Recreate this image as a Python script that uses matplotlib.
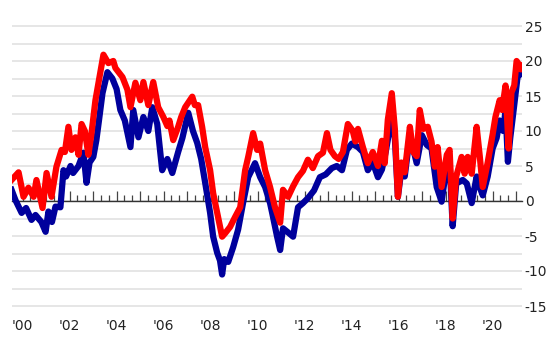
import matplotlib
matplotlib.use("Agg")
import matplotlib.pyplot as plt
from matplotlib.ticker import MultipleLocator

# values (decimal years)
red_t = [1999.53, 1999.83, 2000.04, 2000.25, 2000.47, 2000.59, 2000.85, 2001.02, 2001.23, 2001.44,
         2001.66, 2001.80, 2001.95, 2002.08, 2002.25, 2002.38, 2002.51, 2002.65, 2002.80, 2002.93,
         2003.10, 2003.23, 2003.44, 2003.65, 2003.86, 2003.95, 2004.25, 2004.46, 2004.59, 2004.80,
         2005.01, 2005.14, 2005.35, 2005.56, 2005.77, 2005.99, 2006.16, 2006.25, 2006.41, 2006.62,
         2006.75, 2006.92, 2007.22, 2007.33, 2007.47, 2007.64, 2007.77, 2007.98, 2008.11, 2008.28,
         2008.49, 2008.62, 2008.83, 2009.04, 2009.26, 2009.47, 2009.60, 2009.81, 2009.98, 2010.11,
         2010.32, 2010.53, 2010.74, 2010.96, 2011.08, 2011.30, 2011.51, 2011.72, 2011.93, 2012.14,
         2012.35, 2012.57, 2012.78, 2012.95, 2013.10, 2013.29, 2013.45, 2013.63, 2013.84, 2014.05,
         2014.16, 2014.27, 2014.48, 2014.69, 2014.90, 2015.12, 2015.29, 2015.41, 2015.54, 2015.71,
         2015.84, 2015.97, 2016.12, 2016.26, 2016.48, 2016.62, 2016.77, 2016.90, 2017.05, 2017.24,
         2017.40, 2017.54, 2017.66, 2017.83, 2018.05, 2018.17, 2018.30, 2018.45, 2018.68, 2018.81,
         2018.94, 2019.11, 2019.32, 2019.45, 2019.58, 2019.79, 2020.00, 2020.12, 2020.30, 2020.40,
         2020.55, 2020.68, 2020.80, 2020.92, 2021.02, 2021.12, 2021.20, 2021.25]
red_v = [3.0, 4.1, 0.6, 1.9, 0.6, 3.0, -1.0, 4.0, 0.6, 4.9,
         7.3, 7.0, 10.6, 7.3, 9.1, 6.6, 11.0, 10.0, 6.6, 9.6,
         14.4, 16.9, 20.9, 19.7, 20.0, 19.0, 17.7, 15.9, 13.4, 16.9,
         14.4, 17.0, 13.7, 17.0, 13.4, 12.0, 10.7, 11.5, 8.7, 10.6,
         12.0, 13.4, 14.9, 13.7, 13.7, 10.6, 7.7, 4.4, 1.1, -1.7,
         -5.1, -4.6, -3.7, -2.3, -0.9, 4.4, 6.3, 9.7, 7.3, 8.2,
         4.4, 2.0, -0.9, -3.1, 1.6, 0.6, 2.1, 3.4, 4.3, 5.9,
         4.7, 6.4, 6.9, 9.7, 7.3, 6.4, 6.0, 7.0, 11.0, 10.0,
         8.5, 10.3, 7.7, 5.4, 7.0, 5.0, 8.6, 5.4, 11.6, 15.4,
         10.3, 0.6, 5.5, 4.1, 10.6, 7.0, 6.4, 13.0, 10.3, 10.6,
         8.5, 4.9, 7.7, 2.0, 6.6, 7.3, -2.5, 3.5, 6.3, 3.9,
         6.3, 3.9, 10.6, 6.5, 2.0, 5.5, 9.5, 12.0, 14.4, 13.0,
         16.5, 7.5, 15.5, 16.5, 20.0, 19.5, 18.8, 19.3]

blue_t = [1999.53, 1999.70, 1999.96, 2000.15, 2000.38, 2000.55, 2000.80, 2000.98, 2001.10, 2001.25,
          2001.40, 2001.61, 2001.74, 2001.85, 2002.04, 2002.15, 2002.38, 2002.59, 2002.72, 2002.85,
          2003.01, 2003.14, 2003.25, 2003.40, 2003.61, 2003.82, 2004.00, 2004.16, 2004.35, 2004.59,
          2004.71, 2004.93, 2005.14, 2005.35, 2005.52, 2005.73, 2005.94, 2006.16, 2006.37, 2006.62,
          2006.80, 2007.05, 2007.25, 2007.43, 2007.60, 2007.77, 2007.98, 2008.11, 2008.28, 2008.40,
          2008.49, 2008.58, 2008.75, 2008.96, 2009.17, 2009.38, 2009.60, 2009.89, 2010.11, 2010.32,
          2010.53, 2010.62, 2010.83, 2010.96, 2011.08, 2011.30, 2011.51, 2011.72, 2011.93, 2012.14,
          2012.40, 2012.65, 2012.90, 2013.16, 2013.37, 2013.59, 2013.80, 2014.01, 2014.27, 2014.48,
          2014.69, 2014.90, 2015.12, 2015.29, 2015.45, 2015.71, 2015.84, 2015.97, 2016.12, 2016.26,
          2016.48, 2016.77, 2016.99, 2017.20, 2017.40, 2017.62, 2017.83, 2018.00, 2018.17, 2018.30,
          2018.45, 2018.73, 2018.90, 2019.11, 2019.32, 2019.45, 2019.58, 2019.79, 2020.00, 2020.17,
          2020.30, 2020.45, 2020.55, 2020.65, 2020.75, 2020.93, 2021.06, 2021.25]
blue_v = [1.6, 0.1, -1.7, -1.0, -2.7, -2.0, -3.0, -4.4, -1.5, -3.0,
          -0.8, -0.9, 4.4, 3.5, 5.0, 4.0, 5.0, 6.9, 2.6, 5.5,
          6.3, 8.7, 11.5, 15.4, 18.4, 17.5, 16.0, 13.0, 11.5, 7.7,
          13.0, 9.1, 12.0, 10.0, 13.4, 11.0, 4.4, 6.0, 4.0, 7.0,
          9.0, 12.6, 10.0, 8.3, 6.0, 2.6, -1.7, -5.1, -7.4, -8.5,
          -10.5, -8.3, -8.7, -6.6, -4.1, -0.3, 3.4, 5.4, 3.4, 2.0,
          -0.3, -1.7, -5.1, -7.0, -3.9, -4.5, -5.1, -0.9, -0.3, 0.4,
          1.5, 3.4, 3.8, 4.7, 5.0, 4.4, 7.3, 8.2, 7.7, 7.0,
          4.4, 5.5, 3.4, 4.5, 7.0, 12.0, 9.0, 0.6, 4.5, 3.5,
          9.4, 5.4, 9.4, 8.0, 7.5, 2.0, -0.1, 4.0, 5.5, -3.6,
          2.5, 3.0, 2.5, -0.3, 3.5, 2.0, 0.8, 3.5, 7.5, 9.0,
          11.5, 10.0, 13.0, 5.6, 9.0, 14.0, 17.7, 18.4]

label_years = list(range(2000, 2021, 2))
tick_labels = ["'%02d" % (y % 100) for y in label_years]
y_ticks = [-15, -10, -5, 0, 5, 10, 15, 20, 25]

plt.rcParams['axes.unicode_minus'] = False
plt.rcParams['font.family'] = 'DejaVu Sans'

fig = plt.figure(figsize=(5.55, 3.39), dpi=100)
ax = fig.add_axes([12 / 555, 26 / 339, 510 / 555, 294 / 339])

ax.plot(blue_t, blue_v, color='#00009c', lw=4.5, solid_joinstyle='round', zorder=3)
ax.plot(red_t, red_v, color='#ff0000', lw=4.5, solid_joinstyle='round', zorder=4)

ax.set_xlim(1999.55, 2021.25)
ax.set_ylim(-16, 26)

ax.set_yticks(y_ticks)
ax.yaxis.set_minor_locator(MultipleLocator(2.5))
ax.yaxis.tick_right()
ax.grid(axis='y', which='both', color='#e4e4e4', lw=1.3, zorder=0)
ax.tick_params(axis='y', which='both', length=0, pad=2, labelsize=10, labelcolor='#222222')

ax.set_xticks(label_years)
ax.set_xticklabels(tick_labels)
ax.tick_params(axis='x', length=0, pad=4, labelsize=10, labelcolor='#222222')

for s in ax.spines.values():
    s.set_visible(False)

# zero line with small year ticks
zx = ax.secondary_xaxis(0, transform=ax.transData)
zx.spines['bottom'].set_color('#333333')
zx.spines['bottom'].set_linewidth(1.0)
zx.set_xticks(range(2000, 2022))
zx.xaxis.set_minor_locator(MultipleLocator(1 / 3))
zx.tick_params(axis='x', which='major', direction='in', length=7, width=0.9, color='#444444', labelbottom=False)
zx.tick_params(axis='x', which='minor', direction='in', length=4, width=0.9, color='#444444')
zx.set_zorder(2)

fig.savefig('out.png', dpi=100)
